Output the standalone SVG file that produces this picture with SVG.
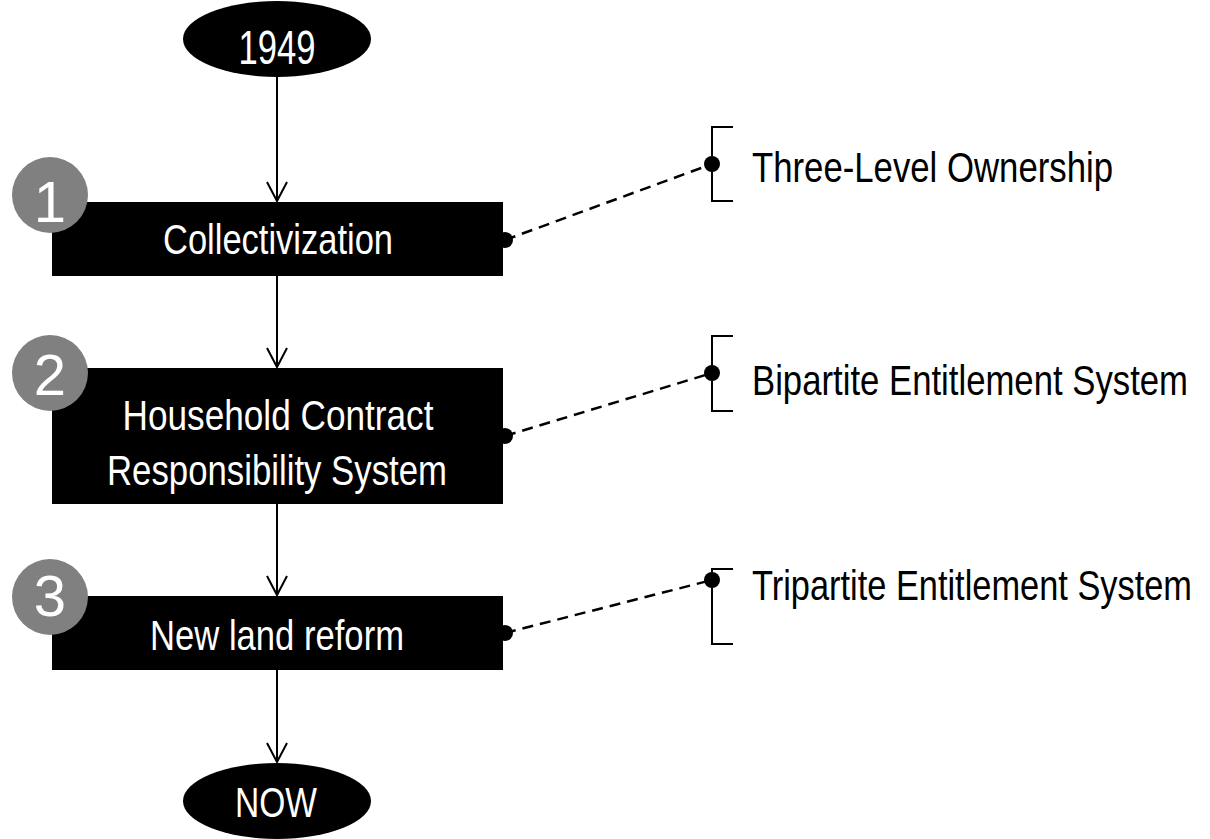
<svg xmlns="http://www.w3.org/2000/svg" width="1210" height="839" viewBox="0 0 1210 839">
<defs>
<style>
.t{font-family:"Liberation Sans Narrow","Arial Narrow","Liberation Sans",Arial,sans-serif;font-size:42px}
.w{fill:#fff}
.b{fill:#000}
.num{font-family:"Liberation Sans",Arial,sans-serif;font-size:58px;fill:#fff;text-anchor:middle}
.box{fill:#000}
.circ{fill:#808080}
.arr{stroke:#000;stroke-width:2;fill:none}
.dash{stroke:#000;stroke-width:2.5;stroke-dasharray:11 7;fill:none}
.brk{stroke:#000;stroke-width:2;fill:none}
</style>
</defs>
<rect width="1210" height="839" fill="#fff"/>
<g id="connectors">
<line class="arr" x1="277" y1="76" x2="277" y2="201"/>
<line class="arr" x1="277" y1="276" x2="277" y2="367"/>
<line class="arr" x1="277" y1="504" x2="277" y2="595"/>
<line class="arr" x1="277" y1="670" x2="277" y2="762"/>
<path class="arr" d="M267 182 L277 201 L287 182"/>
<path class="arr" d="M267 348 L277 367 L287 348"/>
<path class="arr" d="M267 576 L277 595 L287 576"/>
<path class="arr" d="M267 743 L277 762 L287 743"/>
<line class="dash" x1="505" y1="240" x2="712" y2="164"/>
<line class="dash" x1="505" y1="436" x2="712" y2="373"/>
<line class="dash" x1="505" y1="633" x2="712" y2="580"/>
</g>
<g id="start">
<ellipse cx="277" cy="39" rx="94" ry="38" class="b"/>
<text class="t w" x="277" y="64" text-anchor="middle" textLength="77" lengthAdjust="spacingAndGlyphs" style="font-size:49px">1949</text>
</g>
<g id="step1">
<rect class="box" x="52" y="202" width="451" height="74"/>
<circle class="b" cx="505" cy="240" r="8"/>
<circle class="circ" cx="50" cy="195" r="38"/>
<text class="num" x="50" y="222">1</text>
<text class="t w" x="278" y="254" text-anchor="middle" textLength="230" lengthAdjust="spacingAndGlyphs">Collectivization</text>
</g>
<g id="step2">
<rect class="box" x="52" y="368" width="451" height="136"/>
<circle class="b" cx="505" cy="436" r="8"/>
<circle class="circ" cx="50" cy="373" r="38"/>
<text class="num" x="50" y="395">2</text>
<text class="t w" x="278" y="430" text-anchor="middle" textLength="311" lengthAdjust="spacingAndGlyphs">Household Contract</text>
<text class="t w" x="277" y="485" text-anchor="middle" textLength="340" lengthAdjust="spacingAndGlyphs">Responsibility System</text>
</g>
<g id="step3">
<rect class="box" x="52" y="596" width="451" height="74"/>
<circle class="b" cx="505" cy="633" r="8"/>
<circle class="circ" cx="50" cy="597" r="38"/>
<text class="num" x="50" y="616">3</text>
<text class="t w" x="277" y="650" text-anchor="middle" textLength="254" lengthAdjust="spacingAndGlyphs">New land reform</text>
</g>
<g id="end">
<ellipse cx="277" cy="801" rx="94" ry="38" class="b"/>
<text class="t w" x="276" y="817" text-anchor="middle" textLength="82" lengthAdjust="spacingAndGlyphs">NOW</text>
</g>
<g id="label1">
<path class="brk" d="M733 127 H712 V201 H733"/>
<circle class="b" cx="712" cy="164" r="8"/>
<text class="t b" x="752" y="182" textLength="361" lengthAdjust="spacingAndGlyphs">Three-Level Ownership</text>
</g>
<g id="label2">
<path class="brk" d="M733 336 H712 V411 H733"/>
<circle class="b" cx="712" cy="373" r="8"/>
<text class="t b" x="752" y="395" textLength="436" lengthAdjust="spacingAndGlyphs">Bipartite Entitlement System</text>
</g>
<g id="label3">
<path class="brk" d="M733 569 H712 V644 H733"/>
<circle class="b" cx="712" cy="580" r="8"/>
<text class="t b" x="752" y="600" textLength="440" lengthAdjust="spacingAndGlyphs">Tripartite Entitlement System</text>
</g>
</svg>
